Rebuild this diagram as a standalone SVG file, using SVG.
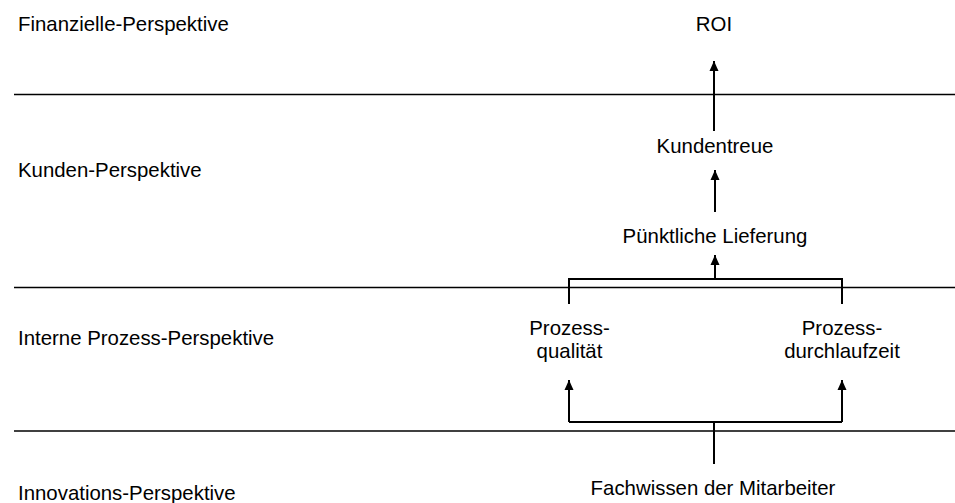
<svg xmlns="http://www.w3.org/2000/svg" width="955" height="503" viewBox="0 0 955 503">
<defs>
<style>
text{font-family:"Liberation Sans",Arial,sans-serif;font-size:20.4px;fill:#000}
.m{text-anchor:middle}
.sep{stroke:#000;stroke-width:1.5}
.c{stroke:#000;stroke-width:2;fill:none}
</style>
<marker id="a" viewBox="0 0 10 10" refX="10" refY="5" markerWidth="10" markerHeight="10" markerUnits="userSpaceOnUse" orient="auto">
<path d="M0,0.5 L10,5 L0,9.5 z" fill="#000"/>
</marker>
</defs>
<rect width="955" height="503" fill="#fff"/>
<g id="lanes">
<line class="sep" x1="14" y1="94.5" x2="955" y2="94.5"/>
<line class="sep" x1="14" y1="287.5" x2="955" y2="287.5"/>
<line class="sep" x1="14" y1="431" x2="955" y2="431"/>
<text x="18" y="31">Finanzielle-Perspektive</text>
<text x="18" y="177">Kunden-Perspektive</text>
<text x="18" y="345">Interne Prozess-Perspektive</text>
<text x="18" y="500">Innovations-Perspektive</text>
</g>
<g id="connectors">
<path class="c" d="M714,131 V61" marker-end="url(#a)"/>
<path class="c" d="M715,212 V170" marker-end="url(#a)"/>
<path class="c" d="M569,304 V279 H842 V304 M715,279 V255" marker-end="url(#a)"/>
<path class="c" d="M714,464 V422 M569,422 H842" />
<path class="c" d="M569,422 V380" marker-end="url(#a)"/>
<path class="c" d="M842,422 V380" marker-end="url(#a)"/>
</g>
<g id="n-roi"><text class="m" x="714" y="31">ROI</text></g>
<g id="n-kundentreue"><text class="m" x="715" y="153">Kundentreue</text></g>
<g id="n-lieferung"><text class="m" x="715" y="243">Pünktliche Lieferung</text></g>
<g id="n-qualitaet"><text class="m" x="569.5" y="335">Prozess-</text><text class="m" x="569.5" y="358">qualität</text></g>
<g id="n-durchlauf"><text class="m" x="842" y="335">Prozess-</text><text class="m" x="842" y="358">durchlaufzeit</text></g>
<g id="n-fachwissen"><text class="m" x="713" y="495">Fachwissen der Mitarbeiter</text></g>
</svg>
